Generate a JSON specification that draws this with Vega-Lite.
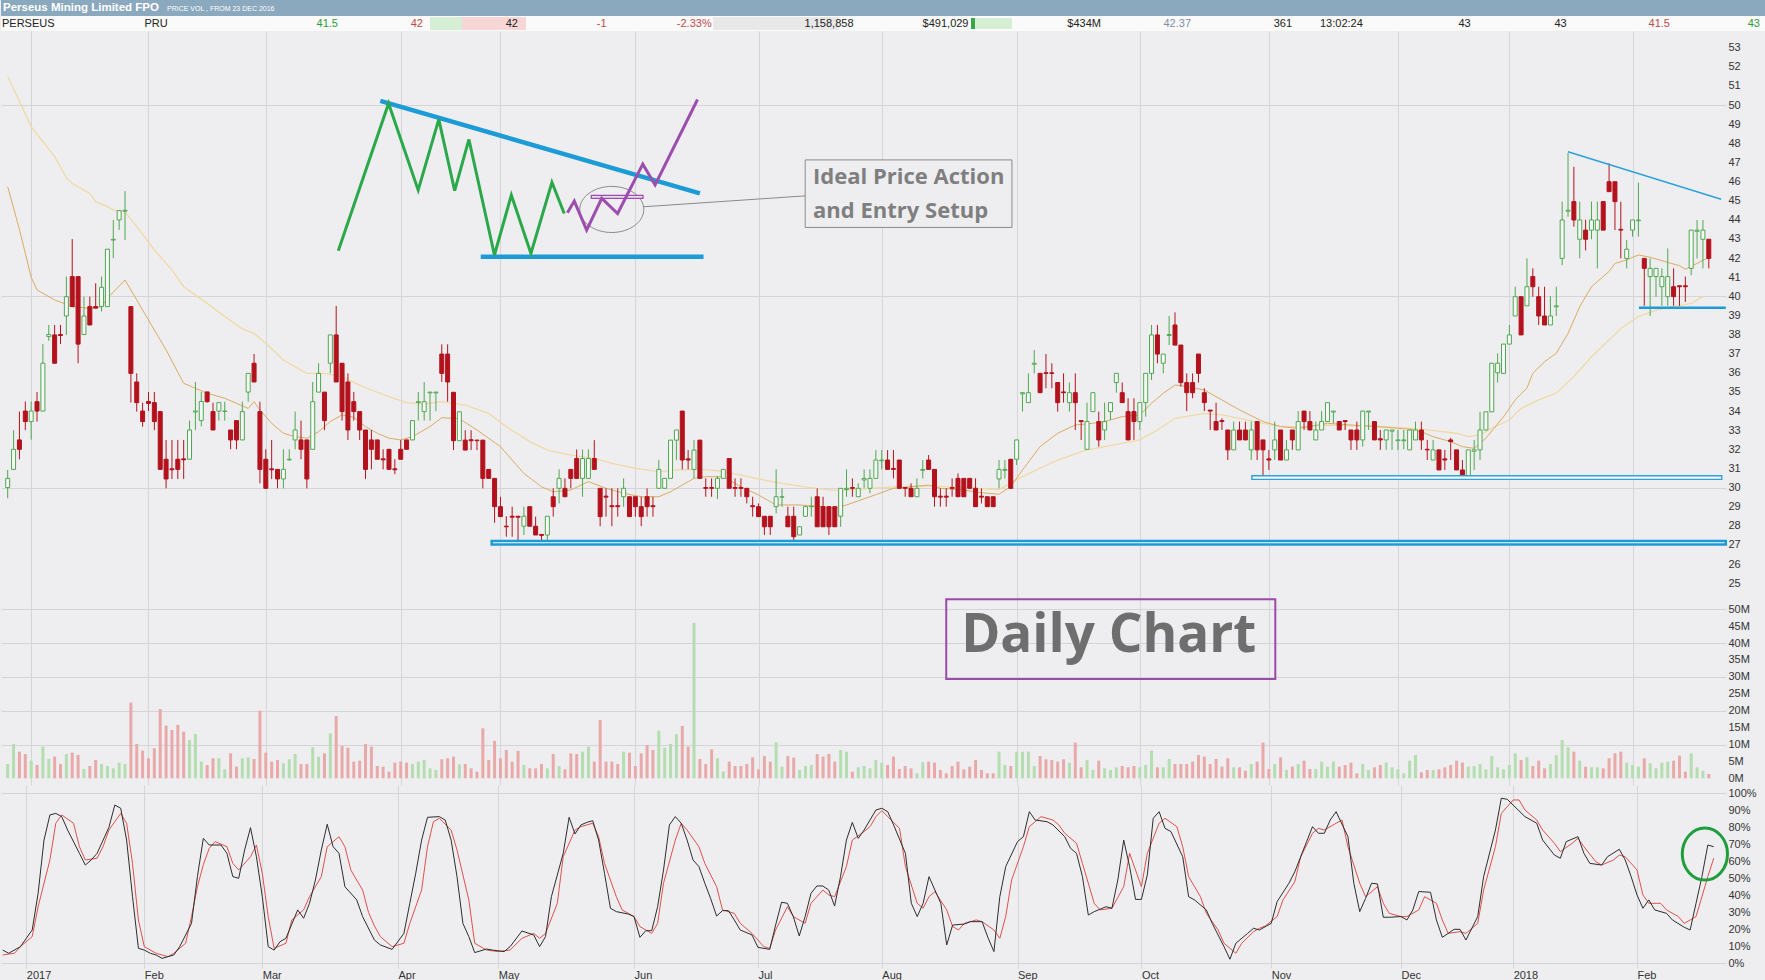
{
  "$schema": "https://vega.github.io/schema/vega-lite/v6.json",
  "background": "#eeeef1",
  "padding": 0,
  "spacing": 0,
  "bounds": "flush",
  "config": {
    "view": {"stroke": null},
    "axis": {"labelFont": "Liberation Sans", "labelFontSize": 11, "labelColor": "#333333", "domain": false, "ticks": false, "gridColor": "#d4d4d9", "gridWidth": 1}
  },
  "datasets": {
    "hdrCells": [
      {"x": 0, "x2": 1765, "y": 0, "y2": 16, "k": "bar"},
      {"x": 0, "x2": 1765, "y": 16, "y2": 31, "k": "row"},
      {"x": 429, "x2": 461, "y": 17, "y2": 30, "k": "up"},
      {"x": 461, "x2": 525, "y": 17, "y2": 30, "k": "down"},
      {"x": 712, "x2": 838, "y": 17, "y2": 30, "k": "grey"},
      {"x": 970, "x2": 1011, "y": 18, "y2": 29, "k": "up"},
      {"x": 970, "x2": 974, "y": 18, "y2": 29, "k": "strong"}
    ],
    "hdrText": [
      {"x": 2, "y": 8, "t": "Perseus Mining Limited FPO", "k": "title", "tone": "white"},
      {"x": 166, "y": 8.5, "t": "PRICE VOL , FROM 23 DEC 2016", "k": "sub", "tone": "white"},
      {"x": 1, "y": 23.5, "t": "PERSEUS", "k": "l", "tone": "plain"},
      {"x": 143.5, "y": 23.5, "t": "PRU", "k": "l", "tone": "plain"},
      {"x": 337, "y": 23.5, "t": "41.5", "k": "r", "tone": "up"},
      {"x": 422, "y": 23.5, "t": "42", "k": "r", "tone": "down"},
      {"x": 517, "y": 23.5, "t": "42", "k": "r", "tone": "plain"},
      {"x": 605.6, "y": 23.5, "t": "-1", "k": "r", "tone": "down"},
      {"x": 710.7, "y": 23.5, "t": "-2.33%", "k": "r", "tone": "down"},
      {"x": 852.5, "y": 23.5, "t": "1,158,858", "k": "r", "tone": "plain"},
      {"x": 967.5, "y": 23.5, "t": "$491,029", "k": "r", "tone": "plain"},
      {"x": 1100, "y": 23.5, "t": "$434M", "k": "r", "tone": "plain"},
      {"x": 1190, "y": 23.5, "t": "42.37", "k": "r", "tone": "muted"},
      {"x": 1291, "y": 23.5, "t": "361", "k": "r", "tone": "plain"},
      {"x": 1319, "y": 23.5, "t": "13:02:24", "k": "l", "tone": "plain"},
      {"x": 1469.7, "y": 23.5, "t": "43", "k": "r", "tone": "plain"},
      {"x": 1565.7, "y": 23.5, "t": "43", "k": "r", "tone": "plain"},
      {"x": 1669, "y": 23.5, "t": "41.5", "k": "r", "tone": "down"},
      {"x": 1759, "y": 23.5, "t": "43", "k": "r", "tone": "up"}
    ],
    "candles": [
      {"i":0,"o":30.0,"h":30.92,"l":29.44,"c":30.48,"v":4.24},
      {"i":1,"o":30.95,"h":33.0,"l":30.95,"c":32.0,"v":10.16},
      {"i":2,"o":32.49,"h":33.97,"l":31.48,"c":32.0,"v":7.89},
      {"i":3,"o":34.0,"h":34.5,"l":33.0,"c":33.45,"v":7.2},
      {"i":4,"o":33.45,"h":34.5,"l":32.5,"c":34.0,"v":5.23},
      {"i":5,"o":34.49,"h":35.0,"l":33.45,"c":34.0,"v":3.94},
      {"i":6,"o":34.0,"h":37.5,"l":34.0,"c":36.5,"v":9.37},
      {"i":7,"o":37.9,"h":38.5,"l":37.67,"c":38.0,"v":5.72},
      {"i":8,"o":37.98,"h":38.5,"l":36.5,"c":36.5,"v":6.41},
      {"i":9,"o":38.0,"h":38.5,"l":37.5,"c":37.95,"v":4.24},
      {"i":10,"o":38.97,"h":41.03,"l":37.98,"c":39.98,"v":7.2},
      {"i":11,"o":41.03,"h":42.99,"l":39.46,"c":39.46,"v":7.59},
      {"i":12,"o":41.03,"h":41.03,"l":36.5,"c":37.5,"v":6.9},
      {"i":13,"o":38.0,"h":39.98,"l":38.0,"c":38.97,"v":2.76},
      {"i":14,"o":39.46,"h":39.98,"l":38.5,"c":38.5,"v":3.65},
      {"i":15,"o":39.46,"h":40.68,"l":39.38,"c":39.38,"v":5.42},
      {"i":16,"o":39.46,"h":41.03,"l":39.2,"c":40.47,"v":4.24},
      {"i":17,"o":39.46,"h":42.46,"l":39.46,"c":42.46,"v":3.65},
      {"i":18,"o":42.94,"h":43.99,"l":41.99,"c":42.98,"v":2.96},
      {"i":19,"o":43.99,"h":44.48,"l":43.47,"c":44.48,"v":4.64},
      {"i":20,"o":44.45,"h":45.5,"l":42.94,"c":44.5,"v":4.24},
      {"i":21,"o":39.46,"h":39.46,"l":34.44,"c":35.97,"v":22.4},
      {"i":22,"o":35.52,"h":35.97,"l":33.97,"c":34.44,"v":10.16},
      {"i":23,"o":34.0,"h":34.44,"l":33.18,"c":33.45,"v":8.19},
      {"i":24,"o":34.5,"h":35.0,"l":34.0,"c":34.4,"v":5.92},
      {"i":25,"o":34.44,"h":35.0,"l":33.0,"c":33.45,"v":8.88},
      {"i":26,"o":33.97,"h":33.97,"l":30.95,"c":30.95,"v":20.5},
      {"i":27,"o":31.48,"h":32.49,"l":29.96,"c":30.45,"v":15.6},
      {"i":28,"o":30.98,"h":32.49,"l":30.45,"c":30.93,"v":14.3},
      {"i":29,"o":31.48,"h":32.49,"l":30.45,"c":30.95,"v":15.8},
      {"i":30,"o":31.5,"h":32.49,"l":30.45,"c":31.45,"v":13.8},
      {"i":31,"o":31.48,"h":33.5,"l":31.48,"c":33.01,"v":11.3},
      {"i":32,"o":33.95,"h":35.52,"l":33.01,"c":34.0,"v":13.1},
      {"i":33,"o":33.5,"h":35.0,"l":33.2,"c":34.5,"v":4.93},
      {"i":34,"o":35.0,"h":35.0,"l":34.44,"c":34.49,"v":3.94},
      {"i":35,"o":33.97,"h":34.44,"l":33.01,"c":33.01,"v":5.92},
      {"i":36,"o":34.0,"h":34.44,"l":33.5,"c":34.44,"v":5.92},
      {"i":37,"o":33.98,"h":34.49,"l":33.5,"c":34.0,"v":2.66},
      {"i":38,"o":33.01,"h":33.01,"l":32.0,"c":32.49,"v":7.4},
      {"i":39,"o":33.5,"h":33.5,"l":32.0,"c":32.49,"v":3.45},
      {"i":40,"o":32.49,"h":34.49,"l":32.49,"c":33.97,"v":5.92},
      {"i":41,"o":34.99,"h":35.97,"l":34.49,"c":35.97,"v":6.21},
      {"i":42,"o":36.5,"h":36.98,"l":35.52,"c":35.52,"v":5.72},
      {"i":43,"o":33.97,"h":34.49,"l":30.22,"c":30.95,"v":20.0},
      {"i":44,"o":31.48,"h":32.0,"l":29.96,"c":29.96,"v":7.59},
      {"i":45,"o":30.98,"h":32.49,"l":30.45,"c":30.93,"v":4.93},
      {"i":46,"o":30.95,"h":30.95,"l":29.96,"c":30.45,"v":5.42},
      {"i":47,"o":30.45,"h":32.0,"l":29.96,"c":30.95,"v":4.44},
      {"i":48,"o":31.45,"h":32.0,"l":31.4,"c":31.48,"v":5.62},
      {"i":49,"o":32.49,"h":33.97,"l":32.0,"c":33.01,"v":7.2},
      {"i":50,"o":32.49,"h":33.5,"l":31.48,"c":32.0,"v":4.24},
      {"i":51,"o":32.49,"h":32.49,"l":29.96,"c":30.45,"v":4.24},
      {"i":52,"o":32.0,"h":35.52,"l":32.0,"c":34.49,"v":9.17},
      {"i":53,"o":34.99,"h":36.5,"l":34.99,"c":35.97,"v":6.41},
      {"i":54,"o":34.99,"h":34.99,"l":33.0,"c":33.5,"v":7.4},
      {"i":55,"o":36.5,"h":37.98,"l":35.97,"c":37.98,"v":13.3},
      {"i":56,"o":37.98,"h":39.49,"l":35.52,"c":35.52,"v":18.4},
      {"i":57,"o":36.5,"h":36.5,"l":33.5,"c":33.97,"v":9.57},
      {"i":58,"o":35.52,"h":35.97,"l":32.49,"c":33.01,"v":9.07},
      {"i":59,"o":34.49,"h":35.0,"l":33.5,"c":33.97,"v":4.93},
      {"i":60,"o":33.97,"h":33.97,"l":32.49,"c":33.01,"v":5.23},
      {"i":61,"o":33.01,"h":33.01,"l":30.45,"c":30.95,"v":10.16},
      {"i":62,"o":32.49,"h":33.01,"l":30.95,"c":32.0,"v":9.37},
      {"i":63,"o":32.49,"h":32.49,"l":31.48,"c":31.48,"v":3.65},
      {"i":64,"o":31.5,"h":32.0,"l":30.95,"c":31.45,"v":3.45},
      {"i":65,"o":32.0,"h":32.0,"l":30.95,"c":30.95,"v":1.97},
      {"i":66,"o":30.98,"h":31.48,"l":30.7,"c":30.93,"v":4.64},
      {"i":67,"o":32.0,"h":32.49,"l":31.48,"c":31.48,"v":4.93},
      {"i":68,"o":32.49,"h":32.49,"l":32.0,"c":32.0,"v":4.64},
      {"i":69,"o":32.49,"h":33.5,"l":32.49,"c":33.5,"v":4.24},
      {"i":70,"o":34.45,"h":35.0,"l":33.5,"c":34.49,"v":4.93},
      {"i":71,"o":33.97,"h":35.52,"l":33.5,"c":34.49,"v":5.42},
      {"i":72,"o":34.95,"h":34.99,"l":33.5,"c":34.99,"v":2.96},
      {"i":73,"o":34.95,"h":34.99,"l":34.0,"c":34.99,"v":2.47},
      {"i":74,"o":36.98,"h":37.49,"l":35.52,"c":35.97,"v":5.62},
      {"i":75,"o":36.98,"h":37.49,"l":34.49,"c":35.52,"v":5.92},
      {"i":76,"o":34.98,"h":35.0,"l":31.96,"c":32.45,"v":6.41},
      {"i":77,"o":32.45,"h":33.96,"l":32.45,"c":33.96,"v":4.14},
      {"i":78,"o":32.48,"h":33.0,"l":31.96,"c":31.96,"v":4.24},
      {"i":79,"o":32.5,"h":33.0,"l":31.96,"c":32.45,"v":2.96},
      {"i":80,"o":32.48,"h":32.5,"l":31.96,"c":32.45,"v":1.97},
      {"i":81,"o":32.48,"h":32.48,"l":29.96,"c":30.48,"v":14.8},
      {"i":82,"o":30.95,"h":30.95,"l":30.48,"c":30.48,"v":5.42},
      {"i":83,"o":30.48,"h":30.48,"l":28.16,"c":29.0,"v":11.1},
      {"i":84,"o":29.0,"h":29.52,"l":28.48,"c":28.48,"v":5.92},
      {"i":85,"o":27.98,"h":28.5,"l":27.43,"c":27.95,"v":8.38},
      {"i":86,"o":28.5,"h":29.0,"l":27.43,"c":28.45,"v":4.93},
      {"i":87,"o":28.5,"h":28.5,"l":27.25,"c":28.45,"v":8.09},
      {"i":88,"o":27.98,"h":29.0,"l":27.52,"c":28.5,"v":3.94},
      {"i":89,"o":29.0,"h":29.0,"l":27.98,"c":27.98,"v":2.96},
      {"i":90,"o":27.98,"h":28.48,"l":27.52,"c":27.52,"v":2.96},
      {"i":91,"o":27.55,"h":27.55,"l":27.08,"c":27.5,"v":4.24},
      {"i":92,"o":27.52,"h":28.5,"l":27.08,"c":28.5,"v":2.96},
      {"i":93,"o":29.52,"h":29.96,"l":28.48,"c":29.0,"v":7.2},
      {"i":94,"o":29.96,"h":30.95,"l":29.17,"c":30.48,"v":3.65},
      {"i":95,"o":29.96,"h":30.48,"l":29.52,"c":29.52,"v":2.66},
      {"i":96,"o":30.95,"h":30.95,"l":29.96,"c":30.48,"v":7.4},
      {"i":97,"o":31.52,"h":31.99,"l":30.48,"c":30.48,"v":7.2},
      {"i":98,"o":30.48,"h":31.99,"l":29.52,"c":31.52,"v":7.89},
      {"i":99,"o":30.48,"h":31.99,"l":30.48,"c":31.52,"v":9.37},
      {"i":100,"o":31.52,"h":32.48,"l":30.95,"c":30.95,"v":4.93},
      {"i":101,"o":29.96,"h":29.96,"l":27.98,"c":28.48,"v":17.3},
      {"i":102,"o":29.55,"h":29.96,"l":28.48,"c":29.5,"v":4.93},
      {"i":103,"o":29.05,"h":29.96,"l":27.98,"c":29.0,"v":4.93},
      {"i":104,"o":29.05,"h":29.96,"l":28.48,"c":29.0,"v":4.24},
      {"i":105,"o":29.52,"h":30.48,"l":29.0,"c":29.96,"v":7.89},
      {"i":106,"o":29.52,"h":29.52,"l":28.48,"c":28.48,"v":7.59},
      {"i":107,"o":29.52,"h":29.52,"l":28.48,"c":29.0,"v":3.65},
      {"i":108,"o":29.0,"h":29.52,"l":27.98,"c":28.48,"v":7.4},
      {"i":109,"o":29.52,"h":29.96,"l":28.48,"c":29.0,"v":9.86},
      {"i":110,"o":29.05,"h":29.52,"l":28.48,"c":29.0,"v":8.38},
      {"i":111,"o":29.96,"h":31.44,"l":29.96,"c":30.95,"v":14.1},
      {"i":112,"o":29.96,"h":30.48,"l":29.96,"c":30.48,"v":9.07},
      {"i":113,"o":30.48,"h":32.48,"l":30.48,"c":32.48,"v":10.16},
      {"i":114,"o":32.48,"h":33.01,"l":31.44,"c":33.01,"v":13.1},
      {"i":115,"o":34.0,"h":34.0,"l":30.95,"c":31.44,"v":15.5},
      {"i":116,"o":31.5,"h":31.96,"l":30.95,"c":31.44,"v":9.37},
      {"i":117,"o":30.95,"h":32.48,"l":30.48,"c":31.96,"v":46},
      {"i":118,"o":32.48,"h":32.48,"l":30.48,"c":30.48,"v":5.72},
      {"i":119,"o":30.0,"h":30.48,"l":29.52,"c":29.96,"v":4.24},
      {"i":120,"o":30.0,"h":30.48,"l":29.52,"c":29.96,"v":8.58},
      {"i":121,"o":29.96,"h":30.6,"l":29.4,"c":30.48,"v":5.92},
      {"i":122,"o":30.48,"h":30.95,"l":30.48,"c":30.95,"v":1.97},
      {"i":123,"o":31.52,"h":31.52,"l":29.96,"c":29.96,"v":4.93},
      {"i":124,"o":30.0,"h":30.48,"l":29.52,"c":29.96,"v":3.65},
      {"i":125,"o":30.0,"h":30.48,"l":29.52,"c":29.96,"v":3.65},
      {"i":126,"o":29.96,"h":29.96,"l":29.17,"c":29.52,"v":4.24},
      {"i":127,"o":29.05,"h":29.52,"l":28.48,"c":29.0,"v":6.21},
      {"i":128,"o":29.0,"h":29.17,"l":28.48,"c":28.48,"v":2.66},
      {"i":129,"o":28.5,"h":28.5,"l":27.52,"c":27.95,"v":6.61},
      {"i":130,"o":28.5,"h":28.5,"l":27.52,"c":27.95,"v":4.93},
      {"i":131,"o":29.0,"h":30.95,"l":28.65,"c":29.52,"v":10.65},
      {"i":132,"o":29.5,"h":29.96,"l":29.0,"c":29.52,"v":3.45},
      {"i":133,"o":28.5,"h":29.0,"l":27.95,"c":27.95,"v":6.61},
      {"i":134,"o":28.5,"h":29.0,"l":27.08,"c":27.43,"v":6.11},
      {"i":135,"o":27.52,"h":27.95,"l":27.52,"c":27.95,"v":2.47},
      {"i":136,"o":28.5,"h":29.0,"l":28.5,"c":29.0,"v":3.65},
      {"i":137,"o":29.0,"h":29.52,"l":28.48,"c":29.02,"v":3.94},
      {"i":138,"o":29.52,"h":29.96,"l":27.95,"c":27.95,"v":7.2},
      {"i":139,"o":29.0,"h":29.52,"l":27.95,"c":27.95,"v":6.41},
      {"i":140,"o":29.0,"h":29.0,"l":27.52,"c":27.95,"v":7.2},
      {"i":141,"o":29.0,"h":29.0,"l":27.95,"c":27.95,"v":4.93},
      {"i":142,"o":28.5,"h":29.96,"l":27.95,"c":29.96,"v":8.38},
      {"i":143,"o":29.9,"h":30.95,"l":29.52,"c":29.96,"v":7.89},
      {"i":144,"o":30.0,"h":30.48,"l":29.52,"c":29.96,"v":1.97},
      {"i":145,"o":29.52,"h":30.22,"l":29.52,"c":29.96,"v":3.25},
      {"i":146,"o":30.4,"h":30.95,"l":29.96,"c":30.48,"v":3.65},
      {"i":147,"o":29.96,"h":30.95,"l":29.7,"c":30.48,"v":2.96},
      {"i":148,"o":30.48,"h":31.96,"l":30.48,"c":31.44,"v":5.42},
      {"i":149,"o":31.4,"h":31.96,"l":30.95,"c":31.44,"v":4.64},
      {"i":150,"o":31.44,"h":31.96,"l":30.95,"c":30.95,"v":3.94},
      {"i":151,"o":31.0,"h":31.96,"l":30.48,"c":30.95,"v":6.41},
      {"i":152,"o":31.44,"h":31.44,"l":29.96,"c":29.96,"v":2.76},
      {"i":153,"o":30.0,"h":30.0,"l":29.52,"c":29.96,"v":3.65},
      {"i":154,"o":29.96,"h":30.22,"l":29.52,"c":29.52,"v":2.96},
      {"i":155,"o":29.52,"h":30.48,"l":29.52,"c":29.96,"v":1.48},
      {"i":156,"o":30.9,"h":31.44,"l":30.48,"c":30.95,"v":4.73},
      {"i":157,"o":31.44,"h":31.7,"l":30.95,"c":30.95,"v":4.93},
      {"i":158,"o":30.95,"h":30.95,"l":29.0,"c":29.52,"v":4.64},
      {"i":159,"o":29.55,"h":29.96,"l":29.0,"c":29.5,"v":2.47},
      {"i":160,"o":29.55,"h":29.96,"l":29.0,"c":29.5,"v":1.48},
      {"i":161,"o":30.0,"h":30.48,"l":29.52,"c":29.96,"v":3.65},
      {"i":162,"o":30.48,"h":30.74,"l":29.52,"c":29.52,"v":4.93},
      {"i":163,"o":30.48,"h":30.48,"l":29.52,"c":29.52,"v":2.66},
      {"i":164,"o":30.48,"h":30.48,"l":29.96,"c":29.96,"v":3.45},
      {"i":165,"o":29.96,"h":30.48,"l":29.0,"c":29.0,"v":5.42},
      {"i":166,"o":29.55,"h":29.96,"l":29.17,"c":29.5,"v":2.47},
      {"i":167,"o":29.52,"h":29.52,"l":29.0,"c":29.0,"v":1.48},
      {"i":168,"o":29.52,"h":29.52,"l":29.0,"c":29.0,"v":1.48},
      {"i":169,"o":30.45,"h":31.44,"l":29.96,"c":30.95,"v":7.89},
      {"i":170,"o":30.9,"h":31.44,"l":30.48,"c":30.95,"v":3.94},
      {"i":171,"o":31.48,"h":31.48,"l":29.96,"c":29.96,"v":3.65},
      {"i":172,"o":31.48,"h":32.49,"l":31.18,"c":32.49,"v":7.89},
      {"i":173,"o":34.9,"h":35.0,"l":33.97,"c":34.96,"v":7.89},
      {"i":174,"o":34.44,"h":35.97,"l":34.44,"c":34.96,"v":7.89},
      {"i":175,"o":36.45,"h":37.19,"l":35.97,"c":36.5,"v":3.65},
      {"i":176,"o":35.97,"h":35.97,"l":34.96,"c":34.96,"v":6.61},
      {"i":177,"o":36.0,"h":36.98,"l":35.19,"c":35.97,"v":5.62},
      {"i":178,"o":36.0,"h":36.5,"l":35.19,"c":35.97,"v":5.42},
      {"i":179,"o":35.49,"h":35.49,"l":33.97,"c":34.44,"v":4.93},
      {"i":180,"o":35.0,"h":35.97,"l":34.44,"c":34.96,"v":5.62},
      {"i":181,"o":34.44,"h":35.49,"l":33.97,"c":34.96,"v":4.64},
      {"i":182,"o":34.96,"h":35.97,"l":33.01,"c":34.44,"v":10.55},
      {"i":183,"o":33.5,"h":33.5,"l":32.49,"c":33.45,"v":3.25},
      {"i":184,"o":32.0,"h":34.44,"l":32.0,"c":33.45,"v":5.42},
      {"i":185,"o":33.97,"h":34.96,"l":33.97,"c":34.96,"v":2.47},
      {"i":186,"o":33.45,"h":33.97,"l":32.14,"c":32.49,"v":5.23},
      {"i":187,"o":33.01,"h":34.44,"l":32.49,"c":33.45,"v":2.96},
      {"i":188,"o":33.97,"h":34.44,"l":33.53,"c":34.44,"v":2.47},
      {"i":189,"o":35.49,"h":35.97,"l":34.96,"c":35.97,"v":3.25},
      {"i":190,"o":34.96,"h":35.49,"l":34.44,"c":34.44,"v":3.65},
      {"i":191,"o":33.97,"h":34.67,"l":32.49,"c":32.49,"v":3.25},
      {"i":192,"o":33.97,"h":34.67,"l":32.49,"c":33.45,"v":3.65},
      {"i":193,"o":33.45,"h":34.44,"l":33.01,"c":34.44,"v":3.25},
      {"i":194,"o":34.44,"h":35.97,"l":33.71,"c":35.97,"v":3.94},
      {"i":195,"o":35.97,"h":38.5,"l":35.63,"c":37.98,"v":8.19},
      {"i":196,"o":37.98,"h":38.5,"l":36.5,"c":36.98,"v":3.25},
      {"i":197,"o":36.5,"h":36.98,"l":35.97,"c":36.98,"v":3.25},
      {"i":198,"o":37.95,"h":38.97,"l":37.45,"c":38.0,"v":5.72},
      {"i":199,"o":38.5,"h":39.16,"l":37.45,"c":37.45,"v":4.24},
      {"i":200,"o":37.45,"h":37.45,"l":35.28,"c":35.49,"v":4.24},
      {"i":201,"o":35.49,"h":35.97,"l":34.0,"c":34.96,"v":4.24},
      {"i":202,"o":35.49,"h":35.97,"l":34.67,"c":34.96,"v":4.93},
      {"i":203,"o":36.98,"h":36.98,"l":35.49,"c":35.97,"v":6.9},
      {"i":204,"o":34.96,"h":35.19,"l":34.0,"c":34.44,"v":6.41},
      {"i":205,"o":34.05,"h":34.05,"l":33.01,"c":34.0,"v":4.24},
      {"i":206,"o":33.45,"h":34.44,"l":33.01,"c":33.01,"v":5.72},
      {"i":207,"o":33.5,"h":33.62,"l":33.01,"c":33.45,"v":3.45},
      {"i":208,"o":33.01,"h":33.01,"l":31.44,"c":31.97,"v":5.92},
      {"i":209,"o":31.97,"h":33.45,"l":31.97,"c":33.01,"v":3.25},
      {"i":210,"o":33.01,"h":33.45,"l":32.49,"c":32.49,"v":3.25},
      {"i":211,"o":33.01,"h":33.45,"l":32.49,"c":32.49,"v":2.27},
      {"i":212,"o":31.97,"h":33.45,"l":31.44,"c":33.01,"v":4.24},
      {"i":213,"o":33.45,"h":33.45,"l":31.44,"c":31.97,"v":4.93},
      {"i":214,"o":32.49,"h":32.49,"l":30.48,"c":31.97,"v":10.55},
      {"i":215,"o":31.5,"h":31.97,"l":30.92,"c":31.44,"v":2.76},
      {"i":216,"o":31.97,"h":33.45,"l":31.44,"c":32.49,"v":4.24},
      {"i":217,"o":33.01,"h":33.01,"l":31.44,"c":31.44,"v":6.21},
      {"i":218,"o":31.44,"h":32.49,"l":31.44,"c":31.97,"v":2.47},
      {"i":219,"o":33.01,"h":33.01,"l":31.97,"c":32.49,"v":3.45},
      {"i":220,"o":31.97,"h":34.0,"l":31.97,"c":33.45,"v":4.24},
      {"i":221,"o":34.0,"h":34.0,"l":33.01,"c":33.45,"v":5.23},
      {"i":222,"o":33.45,"h":34.0,"l":33.01,"c":33.01,"v":2.76},
      {"i":223,"o":32.49,"h":33.45,"l":32.49,"c":33.01,"v":2.76},
      {"i":224,"o":33.01,"h":34.0,"l":33.01,"c":33.45,"v":4.93},
      {"i":225,"o":33.45,"h":34.44,"l":33.45,"c":34.44,"v":3.45},
      {"i":226,"o":33.95,"h":34.0,"l":33.36,"c":34.0,"v":4.93},
      {"i":227,"o":33.45,"h":33.45,"l":33.01,"c":33.01,"v":3.45},
      {"i":228,"o":33.5,"h":33.53,"l":33.01,"c":33.45,"v":3.94},
      {"i":229,"o":33.01,"h":33.01,"l":31.97,"c":32.49,"v":4.64},
      {"i":230,"o":33.01,"h":33.45,"l":31.97,"c":32.49,"v":1.48},
      {"i":231,"o":32.49,"h":34.0,"l":32.14,"c":34.0,"v":4.24},
      {"i":232,"o":33.95,"h":34.0,"l":33.01,"c":34.0,"v":2.47},
      {"i":233,"o":33.45,"h":33.45,"l":32.49,"c":32.49,"v":3.25},
      {"i":234,"o":32.55,"h":33.01,"l":31.97,"c":32.49,"v":3.94},
      {"i":235,"o":32.49,"h":33.01,"l":31.97,"c":33.01,"v":4.64},
      {"i":236,"o":32.95,"h":33.01,"l":31.97,"c":33.01,"v":3.25},
      {"i":237,"o":32.45,"h":33.01,"l":31.97,"c":32.49,"v":2.66},
      {"i":238,"o":32.45,"h":33.01,"l":32.0,"c":32.49,"v":1.48},
      {"i":239,"o":31.97,"h":33.01,"l":31.97,"c":33.01,"v":5.23},
      {"i":240,"o":32.49,"h":33.45,"l":32.49,"c":33.01,"v":6.9},
      {"i":241,"o":33.01,"h":33.45,"l":31.97,"c":32.49,"v":1.78},
      {"i":242,"o":32.0,"h":32.49,"l":31.44,"c":31.97,"v":2.47},
      {"i":243,"o":31.44,"h":32.49,"l":31.44,"c":31.97,"v":2.47},
      {"i":244,"o":31.97,"h":31.97,"l":30.92,"c":30.92,"v":2.66},
      {"i":245,"o":31.5,"h":31.97,"l":30.92,"c":31.44,"v":3.25},
      {"i":246,"o":32.49,"h":32.6,"l":31.44,"c":32.4,"v":3.94},
      {"i":247,"o":31.97,"h":31.97,"l":30.92,"c":30.92,"v":5.23},
      {"i":248,"o":30.92,"h":31.44,"l":30.48,"c":30.48,"v":4.64},
      {"i":249,"o":30.48,"h":31.97,"l":30.48,"c":31.97,"v":3.45},
      {"i":250,"o":31.9,"h":32.49,"l":30.92,"c":31.97,"v":3.65},
      {"i":251,"o":31.97,"h":33.96,"l":31.44,"c":33.01,"v":4.24},
      {"i":252,"o":33.01,"h":33.96,"l":33.01,"c":33.96,"v":2.66},
      {"i":253,"o":33.96,"h":36.5,"l":33.96,"c":36.5,"v":6.61},
      {"i":254,"o":36.0,"h":37.02,"l":35.49,"c":36.5,"v":3.25},
      {"i":255,"o":35.97,"h":37.5,"l":35.97,"c":37.5,"v":2.66},
      {"i":256,"o":37.5,"h":38.5,"l":37.5,"c":37.98,"v":3.94},
      {"i":257,"o":38.97,"h":40.5,"l":38.97,"c":39.98,"v":7.4},
      {"i":258,"o":39.98,"h":39.98,"l":37.98,"c":37.98,"v":5.42},
      {"i":259,"o":39.5,"h":41.98,"l":39.5,"c":40.5,"v":6.21},
      {"i":260,"o":41.03,"h":41.46,"l":39.98,"c":40.5,"v":3.65},
      {"i":261,"o":39.98,"h":40.5,"l":38.5,"c":38.97,"v":5.23},
      {"i":262,"o":38.97,"h":40.5,"l":38.5,"c":38.5,"v":2.96},
      {"i":263,"o":38.5,"h":40.0,"l":38.5,"c":38.97,"v":4.24},
      {"i":264,"o":39.45,"h":40.5,"l":38.97,"c":39.5,"v":6.9},
      {"i":265,"o":41.98,"h":44.95,"l":41.63,"c":43.99,"v":11.34},
      {"i":266,"o":44.45,"h":47.5,"l":44.16,"c":44.5,"v":9.17},
      {"i":267,"o":44.95,"h":46.77,"l":43.64,"c":43.99,"v":7.89},
      {"i":268,"o":42.98,"h":44.95,"l":41.98,"c":43.99,"v":5.23},
      {"i":269,"o":43.46,"h":44.0,"l":42.4,"c":42.98,"v":3.45},
      {"i":270,"o":43.46,"h":44.95,"l":42.98,"c":43.99,"v":3.25},
      {"i":271,"o":43.46,"h":44.95,"l":41.46,"c":43.99,"v":3.25},
      {"i":272,"o":44.95,"h":44.95,"l":43.46,"c":43.46,"v":2.96},
      {"i":273,"o":45.99,"h":46.95,"l":45.47,"c":45.47,"v":5.92},
      {"i":274,"o":45.99,"h":45.99,"l":43.46,"c":44.95,"v":7.4},
      {"i":275,"o":43.5,"h":44.95,"l":41.98,"c":43.46,"v":7.89},
      {"i":276,"o":41.98,"h":42.94,"l":41.46,"c":42.46,"v":4.64},
      {"i":277,"o":43.46,"h":43.99,"l":43.12,"c":43.99,"v":3.94},
      {"i":278,"o":43.95,"h":45.94,"l":43.12,"c":43.99,"v":3.45},
      {"i":279,"o":41.98,"h":41.98,"l":39.5,"c":41.46,"v":5.92},
      {"i":280,"o":41.03,"h":41.98,"l":38.97,"c":41.46,"v":4.44},
      {"i":281,"o":41.03,"h":41.46,"l":39.98,"c":41.46,"v":2.96},
      {"i":282,"o":40.5,"h":41.46,"l":39.5,"c":41.03,"v":4.64},
      {"i":283,"o":39.98,"h":42.5,"l":39.5,"c":41.03,"v":4.93},
      {"i":284,"o":40.5,"h":41.46,"l":39.5,"c":39.98,"v":5.23},
      {"i":285,"o":40.55,"h":40.55,"l":39.5,"c":40.5,"v":6.71},
      {"i":286,"o":40.55,"h":41.03,"l":39.7,"c":40.5,"v":1.97},
      {"i":287,"o":41.46,"h":43.46,"l":41.1,"c":43.46,"v":7.4},
      {"i":288,"o":43.4,"h":43.99,"l":41.98,"c":43.46,"v":3.25},
      {"i":289,"o":42.98,"h":43.99,"l":41.46,"c":43.46,"v":2.27},
      {"i":290,"o":42.98,"h":42.98,"l":41.46,"c":41.98,"v":1.28}
    ],
    "maFast": [
      {"i":0,"p":45.73},{"i":2,"p":43.5},{"i":4,"p":41.0},{"i":5,"p":40.33},{"i":8,"p":39.81},{"i":11,"p":39.46},{"i":14,"p":39.37},{"i":16,"p":39.46},{"i":17,"p":39.9},{"i":20,"p":40.85},{"i":22,"p":39.81},{"i":24,"p":38.76},{"i":27,"p":37.2},{"i":30,"p":35.45},{"i":34,"p":34.93},{"i":37,"p":34.67},{"i":41,"p":34.14},{"i":42,"p":34.49},{"i":43,"p":34.06},{"i":45,"p":33.36},{"i":47,"p":32.84},{"i":49,"p":32.66},{"i":51,"p":32.58},{"i":53,"p":32.92},{"i":55,"p":33.45},{"i":57,"p":33.8},{"i":59,"p":33.67},{"i":61,"p":33.19},{"i":63,"p":32.84},{"i":65,"p":32.58},{"i":67,"p":32.49},{"i":69,"p":32.66},{"i":72,"p":33.19},{"i":74,"p":33.65},{"i":77,"p":33.6},{"i":80,"p":33.01},{"i":84,"p":32.14},{"i":88,"p":30.74},{"i":91,"p":30.04},{"i":93,"p":29.78},{"i":96,"p":29.87},{"i":99,"p":30.31},{"i":102,"p":29.96},{"i":105,"p":29.7},{"i":108,"p":29.52},{"i":111,"p":29.52},{"i":113,"p":29.78},{"i":117,"p":30.48},{"i":119,"p":30.57},{"i":122,"p":30.57},{"i":125,"p":30.04},{"i":128,"p":29.61},{"i":131,"p":29.09},{"i":135,"p":29.09},{"i":139,"p":29.0},{"i":141,"p":28.91},{"i":143,"p":29.09},{"i":147,"p":29.52},{"i":151,"p":29.96},{"i":153,"p":30.01},{"i":157,"p":30.13},{"i":159,"p":29.96},{"i":163,"p":29.87},{"i":166,"p":29.73},{"i":169,"p":29.65},{"i":171,"p":30.05},{"i":173,"p":30.92},{"i":176,"p":32.14},{"i":179,"p":32.84},{"i":182,"p":33.27},{"i":185,"p":33.36},{"i":187,"p":33.45},{"i":190,"p":33.71},{"i":193,"p":33.8},{"i":195,"p":34.41},{"i":197,"p":34.93},{"i":199,"p":35.36},{"i":201,"p":35.28},{"i":204,"p":35.1},{"i":207,"p":34.58},{"i":210,"p":34.06},{"i":214,"p":33.45},{"i":217,"p":33.19},{"i":220,"p":33.1},{"i":222,"p":33.19},{"i":225,"p":33.36},{"i":229,"p":33.27},{"i":232,"p":33.22},{"i":235,"p":33.15},{"i":239,"p":33.05},{"i":241,"p":32.92},{"i":243,"p":32.66},{"i":246,"p":32.4},{"i":248,"p":32.14},{"i":250,"p":32.05},{"i":252,"p":32.58},{"i":255,"p":33.7},{"i":257,"p":34.58},{"i":259,"p":35.2},{"i":260,"p":35.97},{"i":262,"p":36.58},{"i":264,"p":37.02},{"i":266,"p":38.06},{"i":268,"p":39.46},{"i":270,"p":40.5},{"i":273,"p":41.3},{"i":274,"p":41.72},{"i":276,"p":41.9},{"i":278,"p":42.16},{"i":280,"p":42.04},{"i":282,"p":41.86},{"i":285,"p":41.6},{"i":286,"p":41.41},{"i":288,"p":41.72},{"i":290,"p":42.04}
    ],
    "maSlow": [
      {"i":0,"p":51.5},{"i":4,"p":48.87},{"i":8,"p":47.3},{"i":10,"p":46.2},{"i":11,"p":45.9},{"i":14,"p":45.38},{"i":15,"p":44.95},{"i":17,"p":44.69},{"i":18,"p":44.51},{"i":20,"p":44.42},{"i":22,"p":43.64},{"i":25,"p":42.42},{"i":28,"p":41.38},{"i":30,"p":40.5},{"i":34,"p":39.63},{"i":37,"p":38.94},{"i":40,"p":38.3},{"i":42,"p":38.06},{"i":44,"p":37.54},{"i":47,"p":36.67},{"i":51,"p":35.97},{"i":54,"p":35.97},{"i":57,"p":35.8},{"i":60,"p":35.36},{"i":62,"p":35.1},{"i":65,"p":34.75},{"i":68,"p":34.44},{"i":71,"p":34.37},{"i":74,"p":34.49},{"i":78,"p":34.31},{"i":82,"p":33.88},{"i":85,"p":33.18},{"i":89,"p":32.4},{"i":92,"p":31.96},{"i":96,"p":31.7},{"i":100,"p":31.53},{"i":103,"p":31.26},{"i":107,"p":31.0},{"i":111,"p":30.83},{"i":114,"p":30.92},{"i":118,"p":30.95},{"i":121,"p":30.88},{"i":125,"p":30.65},{"i":129,"p":30.39},{"i":132,"p":30.22},{"i":136,"p":30.04},{"i":140,"p":29.87},{"i":143,"p":29.87},{"i":147,"p":29.96},{"i":151,"p":30.04},{"i":154,"p":30.08},{"i":158,"p":30.08},{"i":161,"p":30.04},{"i":165,"p":29.96},{"i":169,"p":29.9},{"i":173,"p":30.57},{"i":179,"p":31.44},{"i":184,"p":31.97},{"i":190,"p":32.31},{"i":193,"p":32.49},{"i":196,"p":33.01},{"i":199,"p":33.62},{"i":204,"p":33.88},{"i":207,"p":33.8},{"i":210,"p":33.62},{"i":214,"p":33.36},{"i":217,"p":33.19},{"i":221,"p":33.19},{"i":224,"p":33.27},{"i":230,"p":33.22},{"i":235,"p":33.19},{"i":241,"p":33.05},{"i":247,"p":32.84},{"i":249,"p":32.66},{"i":251,"p":32.75},{"i":253,"p":33.1},{"i":256,"p":33.53},{"i":258,"p":34.14},{"i":261,"p":34.58},{"i":264,"p":34.93},{"i":267,"p":35.8},{"i":270,"p":36.84},{"i":273,"p":37.72},{"i":275,"p":38.32},{"i":278,"p":38.94},{"i":281,"p":39.28},{"i":284,"p":39.46},{"i":287,"p":39.63},{"i":289,"p":39.98}
    ],
    "sketch": [
      {"g":"zig","i":56.36,"p":42.38},{"g":"zig","i":64.93,"p":50.08},{"g":"zig","i":69.98,"p":45.55},{"g":"zig","i":73.49,"p":49.25},{"g":"zig","i":76.2,"p":45.52},{"g":"zig","i":78.63,"p":48.2},{"g":"zig","i":82.98,"p":42.16},{"g":"zig","i":85.86,"p":45.29},{"g":"zig","i":89.2,"p":42.24},{"g":"zig","i":92.78,"p":45.96},{"g":"zig","i":94.88,"p":44.33},
      {"g":"go","i":95.42,"p":44.37},{"g":"go","i":96.59,"p":44.98},{"g":"go","i":98.7,"p":43.46},{"g":"go","i":101.27,"p":45.12},{"g":"go","i":103.98,"p":44.33},{"g":"go","i":108.27,"p":46.91},{"g":"go","i":110.37,"p":45.82},{"g":"go","i":117.6,"p":50.29},
      {"g":"top","i":63.52,"p":50.22},{"g":"top","i":118.0,"p":45.38},
      {"g":"base","i":80.64,"p":42.07},{"g":"base","i":118.63,"p":42.07},
      {"g":"lead","i":108.4,"p":44.68},{"g":"lead","i":135.95,"p":45.25},
      {"g":"rtop","i":266.0,"p":47.56},{"g":"rtop","i":292.1,"p":45.07},
      {"g":"rbase","i":278.1,"p":39.4},{"g":"rbase","i":292.9,"p":39.4}
    ],
    "zones": [
      {"k":"floor","i":82.5,"i2":292.9,"p":27.02,"p2":27.2},
      {"k":"ledge","i":212.1,"i2":292.2,"p":30.43,"p2":30.62},
      {"k":"entry","i":99.5,"i2":108.3,"p":45.12,"p2":45.28},
      {"k":"note","i":135.95,"i2":171.2,"p":43.6,"p2":47.13}
    ],
    "rings": [{"k":"entry","i":102.98,"p":44.54}],
    "notes": [
      {"i":137.3,"p":46.25,"t":"Ideal Price Action"},
      {"i":137.3,"p":44.48,"t":"and Entry Setup"}
    ],
    "stamp": [{"i":160.0,"i2":216.1,"v":29.35,"v2":52.96,"ic":187.7,"vc":37.4,"t":"Daily Chart"}],
    "stochK": [
      {"i":0,"s":7.8},{"i":1,"s":5.9},{"i":3,"s":9.8},{"i":4,"s":14.7},{"i":5,"s":19.6},{"i":6,"s":41.2},{"i":7,"s":72.5},{"i":8,"s":87.3},{"i":9,"s":88.2},{"i":10,"s":86.3},{"i":11,"s":78.4},{"i":13,"s":64.7},{"i":14,"s":57.8},{"i":15,"s":60.8},{"i":16,"s":64.7},{"i":18,"s":80.0},{"i":19,"s":93.1},{"i":20,"s":91.2},{"i":21,"s":72.5},{"i":22,"s":39.2},{"i":23,"s":8.8},{"i":24,"s":7.8},{"i":25,"s":5.9},{"i":26,"s":4.9},{"i":27,"s":2.9},{"i":29,"s":4.9},{"i":30,"s":9.8},{"i":32,"s":23.5},{"i":33,"s":51.0},{"i":34,"s":73.5},{"i":35,"s":69.6},{"i":37,"s":69.6},{"i":38,"s":64.7},{"i":39,"s":51.0},{"i":40,"s":50.0},{"i":41,"s":66.7},{"i":42,"s":79.8},{"i":43,"s":62.7},{"i":44,"s":39.2},{"i":45,"s":9.8},{"i":46,"s":7.8},{"i":47,"s":12.7},{"i":48,"s":14.7},{"i":50,"s":31.4},{"i":51,"s":26.5},{"i":52,"s":35.3},{"i":53,"s":49.0},{"i":54,"s":66.7},{"i":55,"s":81.8},{"i":56,"s":68.6},{"i":57,"s":64.7},{"i":58,"s":45.1},{"i":60,"s":37.3},{"i":61,"s":27.5},{"i":63,"s":13.7},{"i":64,"s":10.8},{"i":66,"s":8.2},{"i":68,"s":17.6},{"i":69,"s":35.3},{"i":70,"s":52.9},{"i":71,"s":72.5},{"i":72,"s":85.9},{"i":74,"s":86.3},{"i":75,"s":84.3},{"i":76,"s":72.5},{"i":77,"s":51.0},{"i":78,"s":23.5},{"i":79,"s":15.7},{"i":80,"s":6.3},{"i":82,"s":8.4},{"i":83,"s":7.8},{"i":85,"s":6.9},{"i":86,"s":9.8},{"i":88,"s":19.0},{"i":90,"s":16.7},{"i":91,"s":9.8},{"i":92,"s":15.7},{"i":93,"s":39.2},{"i":95,"s":64.7},{"i":96,"s":85.9},{"i":97,"s":76.1},{"i":98,"s":81.4},{"i":99,"s":82.9},{"i":100,"s":83.9},{"i":101,"s":72.5},{"i":102,"s":52.9},{"i":103,"s":32.4},{"i":104,"s":30.4},{"i":106,"s":29.0},{"i":107,"s":27.5},{"i":108,"s":15.3},{"i":109,"s":19.2},{"i":110,"s":19.2},{"i":111,"s":33.3},{"i":112,"s":54.9},{"i":113,"s":81.4},{"i":114,"s":86.3},{"i":115,"s":82.4},{"i":116,"s":72.5},{"i":117,"s":60.8},{"i":118,"s":56.9},{"i":119,"s":47.1},{"i":120,"s":38.0},{"i":121,"s":27.8},{"i":122,"s":31.0},{"i":123,"s":31.0},{"i":124,"s":25.5},{"i":125,"s":19.6},{"i":127,"s":16.7},{"i":128,"s":9.4},{"i":130,"s":8.2},{"i":131,"s":22.5},{"i":132,"s":35.9},{"i":133,"s":35.3},{"i":134,"s":27.5},{"i":135,"s":16.1},{"i":136,"s":27.5},{"i":137,"s":41.2},{"i":138,"s":45.5},{"i":139,"s":45.5},{"i":140,"s":43.1},{"i":141,"s":33.7},{"i":142,"s":51.0},{"i":143,"s":72.5},{"i":144,"s":82.9},{"i":145,"s":73.5},{"i":146,"s":78.4},{"i":147,"s":84.3},{"i":148,"s":90.2},{"i":149,"s":91.2},{"i":150,"s":89.2},{"i":151,"s":81.4},{"i":153,"s":64.7},{"i":154,"s":35.3},{"i":155,"s":27.5},{"i":156,"s":35.3},{"i":157,"s":51.0},{"i":158,"s":43.1},{"i":159,"s":35.3},{"i":160,"s":10.8},{"i":161,"s":22.5},{"i":163,"s":23.1},{"i":164,"s":24.5},{"i":166,"s":24.5},{"i":167,"s":15.0},{"i":168,"s":6.9},{"i":169,"s":39.2},{"i":170,"s":56.9},{"i":172,"s":71.6},{"i":173,"s":74.5},{"i":174,"s":89.2},{"i":175,"s":84.3},{"i":177,"s":83.3},{"i":178,"s":81.4},{"i":180,"s":74.5},{"i":181,"s":67.6},{"i":182,"s":64.7},{"i":183,"s":51.0},{"i":184,"s":28.4},{"i":185,"s":30.4},{"i":187,"s":33.3},{"i":188,"s":32.4},{"i":189,"s":49.0},{"i":190,"s":72.5},{"i":191,"s":56.9},{"i":192,"s":37.6},{"i":193,"s":37.6},{"i":194,"s":52.0},{"i":195,"s":85.3},{"i":196,"s":89.2},{"i":197,"s":79.4},{"i":198,"s":77.5},{"i":200,"s":62.7},{"i":201,"s":39.2},{"i":202,"s":37.3},{"i":204,"s":31.4},{"i":205,"s":23.5},{"i":207,"s":9.8},{"i":208,"s":2.4},{"i":209,"s":11.8},{"i":211,"s":17.6},{"i":212,"s":20.6},{"i":213,"s":19.6},{"i":215,"s":23.5},{"i":216,"s":36.3},{"i":218,"s":47.1},{"i":219,"s":53.9},{"i":221,"s":71.6},{"i":222,"s":80.4},{"i":223,"s":76.5},{"i":224,"s":76.5},{"i":225,"s":84.3},{"i":226,"s":89.2},{"i":228,"s":74.5},{"i":229,"s":47.1},{"i":230,"s":30.4},{"i":231,"s":38.2},{"i":232,"s":47.1},{"i":233,"s":46.7},{"i":234,"s":27.1},{"i":235,"s":27.1},{"i":237,"s":27.5},{"i":238,"s":25.5},{"i":239,"s":31.4},{"i":240,"s":42.2},{"i":242,"s":41.8},{"i":243,"s":25.5},{"i":244,"s":15.3},{"i":246,"s":20.0},{"i":247,"s":20.0},{"i":248,"s":13.7},{"i":250,"s":27.5},{"i":251,"s":51.0},{"i":253,"s":78.4},{"i":254,"s":97.1},{"i":255,"s":96.5},{"i":256,"s":93.1},{"i":258,"s":86.3},{"i":260,"s":82.4},{"i":261,"s":72.5},{"i":263,"s":63.7},{"i":264,"s":61.8},{"i":265,"s":71.6},{"i":267,"s":74.5},{"i":268,"s":64.7},{"i":269,"s":58.8},{"i":271,"s":57.8},{"i":272,"s":62.7},{"i":274,"s":67.1},{"i":275,"s":60.8},{"i":276,"s":51.0},{"i":277,"s":40.2},{"i":278,"s":32.4},{"i":279,"s":37.3},{"i":280,"s":31.4},{"i":282,"s":29.4},{"i":283,"s":25.5},{"i":285,"s":21.2},{"i":286,"s":19.6},{"i":287,"s":35.3},{"i":288,"s":51.0},{"i":289,"s":69.6},{"i":290,"s":68.6}
    ],
    "stochD": [
      {"i":0,"s":4.9},{"i":2,"s":5.9},{"i":3,"s":9.8},{"i":5,"s":15.7},{"i":6,"s":33.3},{"i":8,"s":60.8},{"i":9,"s":82.4},{"i":10,"s":87.3},{"i":12,"s":82.4},{"i":13,"s":68.6},{"i":14,"s":60.8},{"i":16,"s":61.8},{"i":17,"s":68.6},{"i":18,"s":78.4},{"i":20,"s":88.2},{"i":21,"s":82.4},{"i":22,"s":58.8},{"i":23,"s":25.5},{"i":24,"s":9.8},{"i":26,"s":5.9},{"i":28,"s":3.9},{"i":29,"s":5.9},{"i":31,"s":11.8},{"i":32,"s":27.5},{"i":33,"s":45.0},{"i":34,"s":58.0},{"i":35,"s":67.6},{"i":36,"s":71.6},{"i":38,"s":68.6},{"i":39,"s":58.8},{"i":40,"s":54.9},{"i":42,"s":62.7},{"i":43,"s":69.6},{"i":44,"s":52.9},{"i":45,"s":27.5},{"i":46,"s":8.8},{"i":48,"s":11.8},{"i":49,"s":25.5},{"i":51,"s":31.4},{"i":52,"s":39.2},{"i":54,"s":51.0},{"i":55,"s":68.6},{"i":57,"s":74.5},{"i":58,"s":68.6},{"i":59,"s":54.9},{"i":61,"s":43.1},{"i":62,"s":30.0},{"i":63,"s":22.0},{"i":64,"s":15.7},{"i":66,"s":9.8},{"i":68,"s":11.8},{"i":69,"s":23.5},{"i":71,"s":43.1},{"i":72,"s":68.6},{"i":73,"s":83.3},{"i":74,"s":85.3},{"i":76,"s":78.4},{"i":77,"s":66.7},{"i":79,"s":37.3},{"i":80,"s":11.8},{"i":82,"s":7.8},{"i":84,"s":6.9},{"i":86,"s":7.8},{"i":88,"s":14.7},{"i":90,"s":17.6},{"i":91,"s":14.7},{"i":92,"s":17.6},{"i":94,"s":35.3},{"i":95,"s":62.7},{"i":97,"s":78.4},{"i":98,"s":80.4},{"i":100,"s":82.4},{"i":101,"s":74.5},{"i":102,"s":58.8},{"i":104,"s":39.2},{"i":105,"s":31.4},{"i":107,"s":27.5},{"i":108,"s":21.6},{"i":110,"s":17.6},{"i":111,"s":23.5},{"i":112,"s":47.1},{"i":114,"s":72.5},{"i":115,"s":82.4},{"i":116,"s":78.4},{"i":118,"s":68.6},{"i":119,"s":58.8},{"i":121,"s":45.1},{"i":122,"s":31.4},{"i":124,"s":29.4},{"i":125,"s":23.5},{"i":127,"s":17.6},{"i":129,"s":9.8},{"i":130,"s":8.8},{"i":131,"s":19.6},{"i":133,"s":33.3},{"i":134,"s":27.5},{"i":136,"s":23.5},{"i":137,"s":35.3},{"i":139,"s":43.1},{"i":140,"s":40.2},{"i":141,"s":39.2},{"i":143,"s":56.9},{"i":144,"s":72.5},{"i":146,"s":77.5},{"i":147,"s":80.4},{"i":148,"s":86.3},{"i":149,"s":89.8},{"i":150,"s":86.3},{"i":152,"s":79.4},{"i":153,"s":56.9},{"i":155,"s":35.3},{"i":156,"s":32.4},{"i":157,"s":39.2},{"i":158,"s":42.2},{"i":160,"s":31.4},{"i":161,"s":21.6},{"i":162,"s":19.6},{"i":163,"s":23.5},{"i":165,"s":25.5},{"i":166,"s":24.5},{"i":168,"s":19.6},{"i":169,"s":14.7},{"i":170,"s":27.5},{"i":171,"s":49.0},{"i":173,"s":68.6},{"i":174,"s":80.4},{"i":176,"s":86.3},{"i":178,"s":84.3},{"i":179,"s":81.4},{"i":180,"s":76.5},{"i":182,"s":70.6},{"i":183,"s":58.8},{"i":185,"s":35.3},{"i":186,"s":31.4},{"i":188,"s":32.4},{"i":190,"s":45.1},{"i":191,"s":64.7},{"i":192,"s":54.9},{"i":193,"s":45.1},{"i":194,"s":64.7},{"i":196,"s":82.4},{"i":197,"s":85.3},{"i":199,"s":80.4},{"i":200,"s":68.6},{"i":201,"s":51.0},{"i":203,"s":39.2},{"i":204,"s":29.4},{"i":206,"s":19.6},{"i":207,"s":11.8},{"i":209,"s":5.9},{"i":210,"s":11.8},{"i":212,"s":18.6},{"i":213,"s":20.6},{"i":214,"s":22.0},{"i":216,"s":27.5},{"i":217,"s":37.3},{"i":219,"s":48.0},{"i":220,"s":62.7},{"i":222,"s":76.5},{"i":223,"s":79.4},{"i":224,"s":78.4},{"i":226,"s":82.4},{"i":227,"s":84.3},{"i":228,"s":68.6},{"i":230,"s":47.1},{"i":231,"s":39.2},{"i":233,"s":45.1},{"i":234,"s":35.3},{"i":235,"s":29.4},{"i":237,"s":27.5},{"i":238,"s":27.5},{"i":240,"s":31.4},{"i":241,"s":39.2},{"i":243,"s":35.3},{"i":244,"s":25.5},{"i":245,"s":17.6},{"i":247,"s":18.6},{"i":248,"s":17.6},{"i":250,"s":23.5},{"i":251,"s":43.1},{"i":253,"s":68.6},{"i":254,"s":88.2},{"i":256,"s":96.1},{"i":257,"s":96.1},{"i":258,"s":90.2},{"i":260,"s":84.3},{"i":261,"s":78.4},{"i":263,"s":70.6},{"i":264,"s":65.7},{"i":266,"s":70.6},{"i":267,"s":73.5},{"i":268,"s":68.6},{"i":270,"s":59.8},{"i":271,"s":57.8},{"i":273,"s":60.8},{"i":274,"s":63.7},{"i":275,"s":62.7},{"i":277,"s":54.9},{"i":278,"s":40.2},{"i":279,"s":35.3},{"i":281,"s":35.3},{"i":282,"s":31.4},{"i":284,"s":27.5},{"i":285,"s":23.5},{"i":287,"s":27.5},{"i":288,"s":39.2},{"i":289,"s":51.0},{"i":290,"s":61.8}
    ],
    "stochRing": [{"i":288.5,"s":64.3}]
  },
  "vconcat": [
    {
      "width": 1765,
      "height": 31,
      "encoding": {
        "x": {"field": "x", "type": "quantitative", "scale": {"domain": [0, 1765], "nice": false, "zero": false}, "axis": null},
        "y": {"field": "y", "type": "quantitative", "scale": {"domain": [0, 31], "nice": false, "zero": false, "reverse": true}, "axis": null}
      },
      "layer": [
        {
          "data": {"name": "hdrCells"},
          "mark": {"type": "rect"},
          "encoding": {
            "x2": {"field": "x2"},
            "y2": {"field": "y2"},
            "fill": {"field": "k", "type": "nominal", "legend": null,
              "scale": {"domain": ["bar", "row", "up", "down", "grey", "strong"], "range": ["#8aa8be", "#fafafa", "#d6efd4", "#f7d6d6", "#e8e8e8", "#3aa64a"]}}
          }
        },
        {
          "data": {"name": "hdrText"},
          "transform": [{"filter": "datum.k == 'title'"}],
          "mark": {"type": "text", "align": "left", "baseline": "middle", "font": "Liberation Sans", "fontWeight": "bold", "fontSize": 11.5, "color": "#ffffff"},
          "encoding": {"text": {"field": "t"}}
        },
        {
          "data": {"name": "hdrText"},
          "transform": [{"filter": "datum.k == 'sub'"}],
          "mark": {"type": "text", "align": "left", "baseline": "middle", "font": "Liberation Sans", "fontSize": 7, "color": "#ffffff"},
          "encoding": {"text": {"field": "t"}}
        },
        {
          "data": {"name": "hdrText"},
          "transform": [{"filter": "datum.k == 'l'"}],
          "mark": {"type": "text", "align": "left", "baseline": "middle", "font": "Liberation Sans", "fontSize": 11},
          "encoding": {
            "text": {"field": "t"},
            "color": {"field": "tone", "type": "nominal", "legend": null,
              "scale": {"domain": ["plain", "up", "down", "muted", "white"], "range": ["#222222", "#2f9a3b", "#c04a48", "#7d8ea6", "#ffffff"]}}
          }
        },
        {
          "data": {"name": "hdrText"},
          "transform": [{"filter": "datum.k == 'r'"}],
          "mark": {"type": "text", "align": "right", "baseline": "middle", "font": "Liberation Sans", "fontSize": 11},
          "encoding": {
            "text": {"field": "t"},
            "color": {"field": "tone", "type": "nominal", "legend": null,
              "scale": {"domain": ["plain", "up", "down", "muted", "white"], "range": ["#222222", "#2f9a3b", "#c04a48", "#7d8ea6", "#ffffff"]}}
          }
        }
      ]
    },
    {
      "width": 1725,
      "height": 574,
      "encoding": {
        "x": {"field": "i", "type": "quantitative", "title": null,
          "scale": {"domain": [-0.29, 292.08], "nice": false, "zero": false},
          "axis": {"values": [4, 24, 44, 67, 84, 107, 128, 149, 172, 193, 215, 237, 256, 277], "labels": false, "grid": true, "title": null}},
        "y": {"field": "p", "type": "quantitative", "title": null,
          "scale": {"domain": [23.86, 53.87], "nice": false, "zero": false},
          "axis": {"orient": "right", "values": [25, 26, 27, 28, 29, 30, 31, 32, 33, 34, 35, 36, 37, 38, 39, 40, 41, 42, 43, 44, 45, 46, 47, 48, 49, 50, 51, 52, 53],
            "labelPadding": 2, "grid": true, "title": null,
            "gridOpacity": {"condition": {"test": "datum.value % 10 === 0", "value": 1}, "value": 0}}}
      },
      "layer": [
        {"data": {"name": "maSlow"}, "mark": {"type": "line", "color": "#f1d9a4", "strokeWidth": 1.3}, "encoding": {}},
        {"data": {"name": "maFast"}, "mark": {"type": "line", "color": "#dcab62", "strokeWidth": 1}, "encoding": {}},
        {
          "data": {"name": "candles"},
          "mark": {"type": "rule", "strokeWidth": 1},
          "encoding": {
            "y": {"field": "l", "type": "quantitative", "title": null,
              "scale": {"domain": [23.86, 53.87], "nice": false, "zero": false},
              "axis": {"orient": "right", "values": [25, 26, 27, 28, 29, 30, 31, 32, 33, 34, 35, 36, 37, 38, 39, 40, 41, 42, 43, 44, 45, 46, 47, 48, 49, 50, 51, 52, 53],
                "labelPadding": 2, "grid": true, "title": null,
                "gridOpacity": {"condition": {"test": "datum.value % 10 === 0", "value": 1}, "value": 0}}},
            "y2": {"field": "h"},
            "color": {"condition": {"test": "datum.c >= datum.o", "value": "#4fa84f"}, "value": "#b3121c"}
          }
        },
        {
          "data": {"name": "candles"},
          "mark": {"type": "bar", "width": 4, "strokeWidth": 1},
          "encoding": {
            "y": {"field": "o", "type": "quantitative", "title": null,
              "scale": {"domain": [23.86, 53.87], "nice": false, "zero": false},
              "axis": {"orient": "right", "values": [25, 26, 27, 28, 29, 30, 31, 32, 33, 34, 35, 36, 37, 38, 39, 40, 41, 42, 43, 44, 45, 46, 47, 48, 49, 50, 51, 52, 53],
                "labelPadding": 2, "grid": true, "title": null,
                "gridOpacity": {"condition": {"test": "datum.value % 10 === 0", "value": 1}, "value": 0}}},
            "y2": {"field": "c"},
            "fill": {"condition": {"test": "datum.c >= datum.o", "value": "#f7f7f9"}, "value": "#b3121c"},
            "stroke": {"condition": {"test": "datum.c >= datum.o", "value": "#4fa84f"}, "value": "#b3121c"}
          }
        },
        {
          "data": {"name": "zones"},
          "transform": [{"filter": "datum.k == 'floor'"}],
          "mark": {"type": "rect", "fill": "#fbfbfd", "stroke": "#1c9bd7", "strokeWidth": 2.5},
          "encoding": {"x2": {"field": "i2"}, "y2": {"field": "p2"}}
        },
        {
          "data": {"name": "zones"},
          "transform": [{"filter": "datum.k == 'ledge'"}],
          "mark": {"type": "rect", "fill": "#f8f8fb", "stroke": "#2aa2da", "strokeWidth": 1.4},
          "encoding": {"x2": {"field": "i2"}, "y2": {"field": "p2"}}
        },
        {
          "data": {"name": "sketch"},
          "transform": [{"filter": "datum.g == 'top' || datum.g == 'base'"}],
          "mark": {"type": "line", "strokeWidth": 4.5, "color": "#1c9bd7"},
          "encoding": {"detail": {"field": "g"}}
        },
        {
          "data": {"name": "sketch"},
          "transform": [{"filter": "datum.g == 'zig'"}],
          "mark": {"type": "line", "strokeWidth": 3, "color": "#2aa84a"},
          "encoding": {}
        },
        {
          "data": {"name": "sketch"},
          "transform": [{"filter": "datum.g == 'lead'"}],
          "mark": {"type": "line", "strokeWidth": 1, "color": "#8a8a8a"},
          "encoding": {}
        },
        {
          "data": {"name": "rings"},
          "mark": {"type": "point", "shape": "M-1,0A1,0.72,0,1,1,1,0A1,0.72,0,1,1,-1,0Z", "size": 4096, "filled": false, "stroke": "#8a8a8a", "strokeWidth": 1, "opacity": 1},
          "encoding": {}
        },
        {
          "data": {"name": "zones"},
          "transform": [{"filter": "datum.k == 'entry'"}],
          "mark": {"type": "rect", "fill": "#eddcf0", "stroke": "#9c4dae", "strokeWidth": 1.3},
          "encoding": {"x2": {"field": "i2"}, "y2": {"field": "p2"}}
        },
        {
          "data": {"name": "sketch"},
          "transform": [{"filter": "datum.g == 'go'"}],
          "mark": {"type": "line", "strokeWidth": 3, "color": "#9c4dae"},
          "encoding": {}
        },
        {
          "data": {"name": "sketch"},
          "transform": [{"filter": "datum.g == 'rtop'"}],
          "mark": {"type": "line", "strokeWidth": 1.5, "color": "#2aa2da"},
          "encoding": {}
        },
        {
          "data": {"name": "sketch"},
          "transform": [{"filter": "datum.g == 'rbase'"}],
          "mark": {"type": "line", "strokeWidth": 2.5, "color": "#1c9bd7"},
          "encoding": {}
        },
        {
          "data": {"name": "zones"},
          "transform": [{"filter": "datum.k == 'note'"}],
          "mark": {"type": "rect", "fill": "#eeeef1", "stroke": "#8a8a8a", "strokeWidth": 1},
          "encoding": {"x2": {"field": "i2"}, "y2": {"field": "p2"}}
        },
        {
          "data": {"name": "notes"},
          "mark": {"type": "text", "align": "left", "baseline": "middle", "font": "Open Sans", "fontWeight": "bold", "fontSize": 22, "color": "#7f7f7f"},
          "encoding": {"text": {"field": "t"}}
        }
      ]
    },
    {
      "width": 1725,
      "height": 180,
      "encoding": {
        "x": {"field": "i", "type": "quantitative", "title": null,
          "scale": {"domain": [-0.29, 292.08], "nice": false, "zero": false},
          "axis": {"values": [4, 24, 44, 67, 84, 107, 128, 149, 172, 193, 215, 237, 256, 277], "labels": false, "grid": true, "title": null}},
        "y": {"field": "v", "type": "quantitative", "title": null,
          "scale": {"domain": [-1.98, 51.27], "nice": false, "zero": false},
          "axis": {"orient": "right", "values": [0, 5, 10, 15, 20, 25, 30, 35, 40, 45, 50], "labelExpr": "datum.value + 'M'", "labelPadding": 2, "grid": true, "title": null,
            "gridOpacity": {"condition": {"test": "datum.value % 10 === 0 && datum.value > 0", "value": 1}, "value": 0}}}
      },
      "layer": [
        {
          "data": {"name": "candles"},
          "mark": {"type": "bar", "width": 3},
          "encoding": {
            "y2": {"datum": 0},
            "color": {"condition": {"test": "datum.c >= datum.o", "value": "#b4ddb0"}, "value": "#e9a9a9"}
          }
        },
        {
          "data": {"name": "stamp"},
          "mark": {"type": "rect", "fill": "transparent", "stroke": "#9b4aa8", "strokeWidth": 2},
          "encoding": {
            "x2": {"field": "i2"},
            "y2": {"field": "v2"}
          }
        },
        {
          "data": {"name": "stamp"},
          "mark": {"type": "text", "align": "center", "baseline": "alphabetic", "font": "Open Sans", "fontWeight": "bold", "fontSize": 53, "color": "#6e6e6e"},
          "encoding": {
            "x": {"field": "ic", "type": "quantitative", "title": null,
              "scale": {"domain": [-0.29, 292.08], "nice": false, "zero": false},
              "axis": {"values": [4, 24, 44, 67, 84, 107, 128, 149, 172, 193, 215, 237, 256, 277], "labels": false, "grid": true, "title": null}},
            "y": {"field": "vc", "type": "quantitative", "title": null,
              "scale": {"domain": [-1.98, 51.27], "nice": false, "zero": false},
              "axis": {"orient": "right", "values": [0, 5, 10, 15, 20, 25, 30, 35, 40, 45, 50], "labelExpr": "datum.value + 'M'", "labelPadding": 2, "grid": true, "title": null,
                "gridOpacity": {"condition": {"test": "datum.value % 10 === 0 && datum.value > 0", "value": 1}, "value": 0}}},
            "text": {"field": "t"}
          }
        }
      ]
    },
    {
      "width": 1725,
      "height": 183,
      "encoding": {
        "x": {"field": "i", "type": "quantitative", "title": null,
          "scale": {"domain": [-0.29, 292.08], "nice": false, "zero": false},
          "axis": {"values": [4, 24, 44, 67, 84, 107, 128, 149, 172, 193, 215, 237, 256, 277],
            "labelExpr": "['2017','Feb','Mar','Apr','May','Jun','Jul','Aug','Sep','Oct','Nov','Dec','2018','Feb'][indexof([4,24,44,67,84,107,128,149,172,193,215,237,256,277], datum.value)]",
            "labelAlign": "left", "labelBaseline": "top", "labelPadding": 1, "labelFlush": false, "labelOverlap": false, "grid": true, "title": null}},
        "y": {"field": "s", "type": "quantitative", "title": null,
          "scale": {"domain": [-2.76, 104.9], "nice": false, "zero": false},
          "axis": {"orient": "right", "values": [0, 10, 20, 30, 40, 50, 60, 70, 80, 90, 100], "labelExpr": "datum.value + '%'", "labelPadding": 2, "grid": true, "title": null,
            "gridOpacity": {"condition": {"test": "datum.value == 0 || datum.value == 100", "value": 1}, "value": 0}}}
      },
      "layer": [
        {"data": {"name": "stochD"}, "mark": {"type": "line", "color": "#e0504a", "strokeWidth": 1}, "encoding": {}},
        {"data": {"name": "stochK"}, "mark": {"type": "line", "color": "#2d2d2d", "strokeWidth": 1}, "encoding": {}},
        {
          "data": {"name": "stochRing"},
          "mark": {"type": "point", "shape": "M-0.87,0A0.87,1,0,1,1,0.87,0A0.87,1,0,1,1,-0.87,0Z", "size": 2704, "filled": false, "stroke": "#1f9e3c", "strokeWidth": 3, "opacity": 1},
          "encoding": {}
        }
      ]
    }
  ]
}
